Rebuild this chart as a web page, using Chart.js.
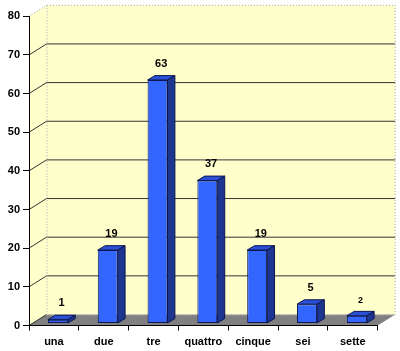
<!DOCTYPE html>
<html><head><meta charset="utf-8">
<script src="https://cdn.jsdelivr.net/npm/chart.js@4/dist/chart.umd.min.js"></script>
<style>html,body{margin:0;padding:0;background:#fff}</style>
</head><body>
<canvas id="c" width="400" height="351"></canvas>
<script>
const categories = ['una', 'due', 'tre', 'quattro', 'cinque', 'sei', 'sette'];
const values = [1, 19, 63, 37, 19, 5, 2];
const yTicks = [0, 10, 20, 30, 40, 50, 60, 70, 80];

// styling (not data)
const labelFontSizes = [11, 11, 11, 11, 11, 11, 9];
const WALL = { dx: 17.5, dy: -11 };
const BAR = { ox: 4, oy: -2, dx: 7.4, dy: -4.4 };
const FONT = '"Liberation Sans", Arial, sans-serif';

const threeD = {
  id: 'threeD',
  beforeDraw(chart) {
    const { ctx, chartArea: a } = chart;
    const y = chart.scales.y;
    const L = a.left, R = a.right, T = a.top, Bt = a.bottom;
    ctx.save();
    ctx.fillStyle = '#ffffff';
    ctx.fillRect(0, 0, chart.width, chart.height);
    // back wall
    ctx.fillStyle = '#FFFFCC';
    ctx.fillRect(L + WALL.dx, T + WALL.dy, R - L, Bt - T);
    // left wall
    ctx.beginPath();
    ctx.moveTo(L, T); ctx.lineTo(L + WALL.dx, T + WALL.dy);
    ctx.lineTo(L + WALL.dx, Bt + WALL.dy); ctx.lineTo(L, Bt); ctx.closePath();
    ctx.fill();
    // floor
    ctx.fillStyle = '#808080';
    ctx.beginPath();
    ctx.moveTo(L, Bt); ctx.lineTo(R, Bt);
    ctx.lineTo(R + WALL.dx, Bt + WALL.dy); ctx.lineTo(L + WALL.dx, Bt + WALL.dy); ctx.closePath();
    ctx.fill();
    // gridlines
    ctx.strokeStyle = '#333333';
    ctx.lineWidth = 1;
    yTicks.forEach(v => {
      if (v === 0 || v === y.max) return;
      const py = y.getPixelForValue(v);
      ctx.beginPath();
      ctx.moveTo(L, py); ctx.lineTo(L + WALL.dx, py + WALL.dy);
      ctx.lineTo(R + WALL.dx, py + WALL.dy);
      ctx.stroke();
    });
    // floor left edge
    ctx.beginPath();
    ctx.moveTo(L, Bt); ctx.lineTo(L + WALL.dx, Bt + WALL.dy);
    ctx.stroke();
    // dotted edges
    ctx.setLineDash([1, 2]);
    ctx.strokeStyle = '#a0a0a0';
    ctx.beginPath();
    ctx.moveTo(L, T); ctx.lineTo(L + WALL.dx, T + WALL.dy);
    ctx.lineTo(R + WALL.dx, T + WALL.dy);
    ctx.lineTo(R + WALL.dx, Bt + WALL.dy);
    ctx.moveTo(L + WALL.dx + 0.5, T + WALL.dy); ctx.lineTo(L + WALL.dx + 0.5, Bt + WALL.dy);
    ctx.stroke();
    ctx.strokeStyle = '#d0d0d0';
    ctx.beginPath();
    ctx.moveTo(L + WALL.dx, Bt + WALL.dy + 0.5); ctx.lineTo(R + WALL.dx, Bt + WALL.dy + 0.5);
    ctx.stroke();
    ctx.restore();
  },
  beforeDatasetsDraw(chart) {
    chart.ctx.save();
    chart.ctx.translate(BAR.ox, BAR.oy);
  },
  afterDatasetsDraw(chart) {
    const ctx = chart.ctx;
    const meta = chart.getDatasetMeta(0);
    ctx.lineWidth = 1;
    ctx.strokeStyle = '#0d1650';
    meta.data.forEach(bar => {
      const { x, y, base, width } = bar.getProps(['x', 'y', 'base', 'width'], true);
      const l = x - width / 2, r = x + width / 2;
      // top face
      ctx.fillStyle = '#2a50d6';
      ctx.beginPath();
      ctx.moveTo(l, y); ctx.lineTo(r, y);
      ctx.lineTo(r + BAR.dx, y + BAR.dy); ctx.lineTo(l + BAR.dx, y + BAR.dy); ctx.closePath();
      ctx.fill(); ctx.stroke();
      // side face
      ctx.fillStyle = '#1c3690';
      ctx.beginPath();
      ctx.moveTo(r, y); ctx.lineTo(r + BAR.dx, y + BAR.dy);
      ctx.lineTo(r + BAR.dx, base + BAR.dy); ctx.lineTo(r, base); ctx.closePath();
      ctx.fill(); ctx.stroke();
    });
    ctx.restore();
    // value labels
    ctx.save();
    ctx.fillStyle = '#000';
    ctx.textAlign = 'center';
    ctx.textBaseline = 'middle';
    meta.data.forEach((bar, i) => {
      const { x, y } = bar.getProps(['x', 'y'], true);
      ctx.font = 'bold ' + labelFontSizes[i] + 'px ' + FONT;
      const off = labelFontSizes[i] < 10 ? 17 : 18.4;
      ctx.fillText(String(values[i]), x + BAR.ox + BAR.dx / 2, y - off);
    });
    ctx.restore();
  }
};

new Chart(document.getElementById('c'), {
  type: 'bar',
  data: {
    labels: categories,
    datasets: [{
      data: values,
      backgroundColor: '#3366FF',
      borderColor: '#0d1650',
      borderWidth: 1,
      borderSkipped: false,
      barPercentage: 0.4,
      categoryPercentage: 1.0
    }]
  },
  options: {
    responsive: false,
    animation: false,
    events: [],
    layout: { padding: { top: 16.3, right: 22.3, left: 0, bottom: 0 } },
    plugins: { legend: { display: false }, tooltip: { enabled: false } },
    scales: {
      x: {
        offset: true,
        grid: { display: true, drawOnChartArea: false, drawTicks: true, tickLength: 5, color: '#000', offset: true },
        border: { display: true, color: '#000', width: 1 },
        ticks: { color: '#000', font: { family: FONT, size: 11, weight: 'bold' }, padding: 5, maxRotation: 0 },
        afterFit(s) { s.height = 25.5; }
      },
      y: {
        min: 0, max: 80,
        afterBuildTicks(s) { s.ticks = yTicks.map(v => ({ value: v })); },
        grid: { display: true, drawOnChartArea: false, drawTicks: true, tickLength: 6, color: '#000' },
        border: { display: true, color: '#000', width: 1 },
        ticks: { color: '#000', font: { family: FONT, size: 11, weight: 'bold' }, padding: 3 },
        afterFit(s) { s.width = 29; }
      }
    }
  },
  plugins: [threeD]
});
</script>
</body></html>
